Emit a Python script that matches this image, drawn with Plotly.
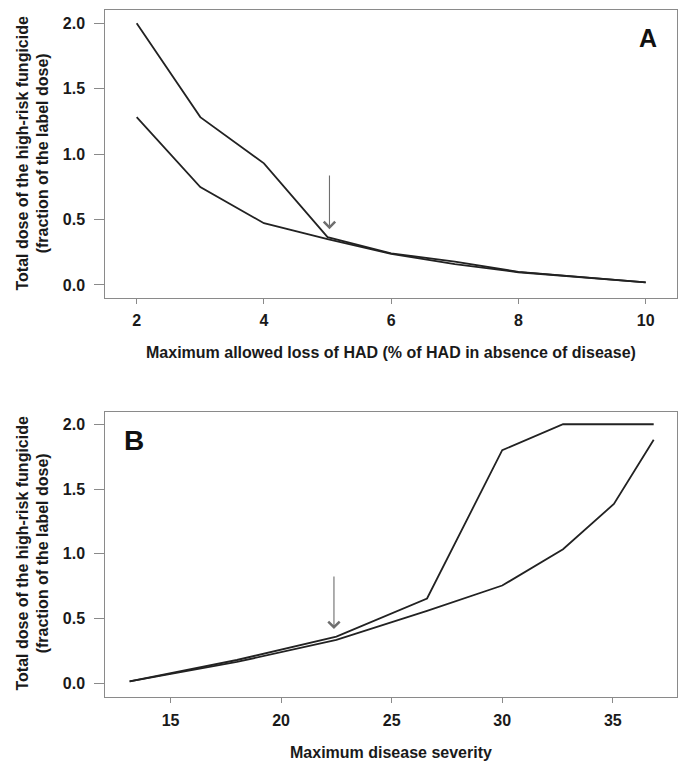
import plotly.graph_objects as go

# ---- Data: panel A ----
a_x = [2, 3, 4, 5, 6, 7, 8, 9, 10]
a_upper = [2.0, 1.283, 0.93, 0.365, 0.242, 0.178, 0.10, 0.06, 0.02]
a_lower = [1.283, 0.748, 0.472, 0.35, 0.238, 0.16, 0.097, 0.058, 0.02]
a_ticks = [2, 4, 6, 8, 10]
a_arrow = {"x": 5.03, "y_tip": 0.426, "y_tail": 0.849}

# ---- Data: panel B ----
b_x = [13.15, 18.0, 22.5, 26.6, 30.0, 32.75, 35.05, 36.85]
b_upper = [0.015, 0.18, 0.36, 0.655, 1.80, 2.0, 2.0, 2.0]
b_lower = [0.015, 0.165, 0.335, 0.56, 0.755, 1.035, 1.385, 1.88]
b_ticks = [15, 20, 25, 30, 35]
b_arrow = {"x": 22.39, "y_tip": 0.419, "y_tail": 0.836}

y_ticks = [0.0, 0.5, 1.0, 1.5, 2.0]
y_ticklabels = ["0.0", "0.5", "1.0", "1.5", "2.0"]

x_title_a = "Maximum allowed loss of HAD (% of HAD in absence of disease)"
x_title_b = "Maximum disease severity"
y_title = "Total dose of the high-risk fungicide<br>(fraction of the label dose)"

W, H = 683, 762
FONT = "Liberation Sans, Arial, sans-serif"
TXT = "#1a1a1a"
LINE = "#222222"
BOX = "#8a8a8a"

def px_x(p):
    return p / W

def px_y(p):
    return 1 - p / H

fig = go.Figure()
line_style = dict(color=LINE, width=1.8)
fig.add_trace(go.Scatter(x=a_x, y=a_upper, mode="lines", line=line_style, xaxis="x", yaxis="y", showlegend=False))
fig.add_trace(go.Scatter(x=a_x, y=a_lower, mode="lines", line=line_style, xaxis="x", yaxis="y", showlegend=False))
fig.add_trace(go.Scatter(x=b_x, y=b_upper, mode="lines", line=line_style, xaxis="x2", yaxis="y2", showlegend=False))
fig.add_trace(go.Scatter(x=b_x, y=b_lower, mode="lines", line=line_style, xaxis="x2", yaxis="y2", showlegend=False))

tickfont = dict(family=FONT, size=16, color=TXT, weight="bold")
xdom = [px_x(105.3), px_x(676.7)]

common_x = dict(showgrid=False, zeroline=False, showline=True, linecolor=BOX, linewidth=1,
                mirror=True, ticks="outside", ticklen=5, tickcolor=BOX, tickwidth=1,
                tickfont=tickfont, ticklabelstandoff=3, domain=xdom)
common_y = dict(showgrid=False, zeroline=False, showline=True, linecolor=BOX, linewidth=1,
                mirror=True, ticks="outside", ticklen=10, tickcolor=BOX, tickwidth=1,
                tickfont=tickfont, ticklabelstandoff=6, tickvals=y_ticks, ticktext=y_ticklabels)

fig.update_layout(
    width=W, height=H,
    margin=dict(l=0, r=0, t=0, b=0),
    paper_bgcolor="white", plot_bgcolor="white",
    xaxis=dict(common_x, range=[1.507, 10.487], tickvals=a_ticks, anchor="y"),
    yaxis=dict(common_y, range=[-0.096, 2.102], domain=[px_y(297.5), px_y(10)], anchor="x"),
    xaxis2=dict(common_x, range=[12.05, 37.89], tickvals=b_ticks, anchor="y2"),
    yaxis2=dict(common_y, range=[-0.108, 2.097], domain=[px_y(697.3), px_y(411.7)], anchor="x2"),
)

ann = []
title_font = dict(family=FONT, size=16, color=TXT, weight="bold")
# x-axis titles
ann.append(dict(text=x_title_a, x=(xdom[0] + xdom[1]) / 2, y=px_y(352), xref="paper", yref="paper",
                showarrow=False, font=title_font, xanchor="center", yanchor="middle"))
ann.append(dict(text=x_title_b, x=(xdom[0] + xdom[1]) / 2, y=px_y(752), xref="paper", yref="paper",
                showarrow=False, font=title_font, xanchor="center", yanchor="middle"))
# y-axis titles
for yc in [154, 554]:
    ann.append(dict(text=y_title, x=px_x(32.5), y=px_y(yc), xref="paper", yref="paper",
                    showarrow=False, font=title_font, textangle=-90, xanchor="center", yanchor="middle"))
# panel letters
ann.append(dict(text="A", x=px_x(648), y=px_y(37.5), xref="paper", yref="paper", showarrow=False,
                font=dict(family=FONT, size=25, color="#111111", weight="bold"), xanchor="center", yanchor="middle"))
ann.append(dict(text="B", x=px_x(133.5), y=px_y(440), xref="paper", yref="paper", showarrow=False,
                font=dict(family=FONT, size=28, color="#111111", weight="bold"), xanchor="center", yanchor="middle"))
# arrows
for arr, xr, yr in [(a_arrow, "x", "y"), (b_arrow, "x2", "y2")]:
    ann.append(dict(text="", x=arr["x"], y=arr["y_tip"], ax=arr["x"], ay=arr["y_tail"],
                    xref=xr, yref=yr, axref=xr, ayref=yr, showarrow=True,
                    arrowhead=4, arrowsize=2.0, arrowwidth=1.1, arrowcolor="#6e6e6e", standoff=0))

fig.update_layout(annotations=ann)
fig.write_html("out.html")
